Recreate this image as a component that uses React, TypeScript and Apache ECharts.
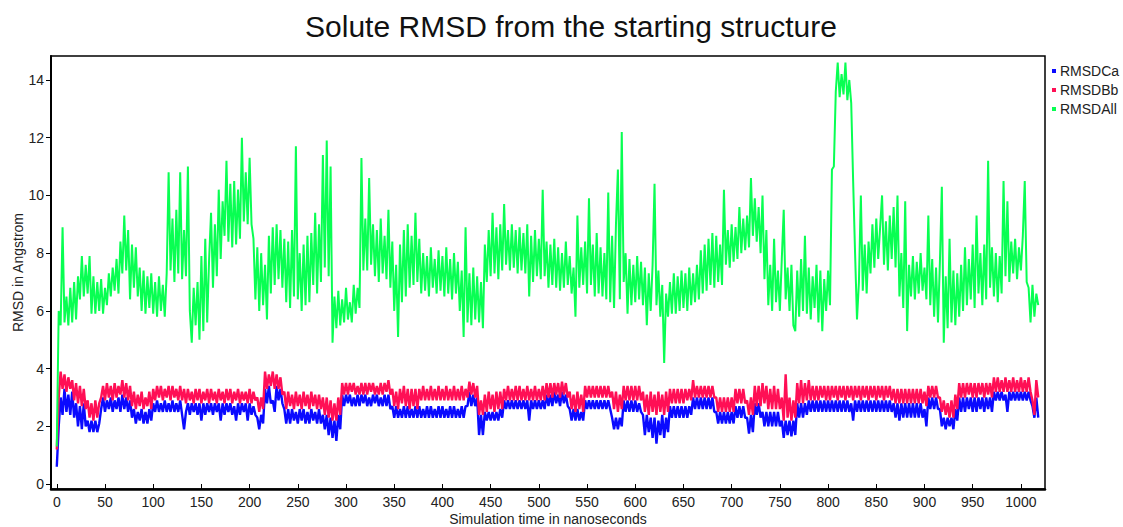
import React, { useEffect, useRef } from "react";
import * as echarts from "echarts";

// Trajectory frames are sampled every 2 ns.
const SAMPLE_STEP_NS = 2;

const seriesNames = ["RMSDCa", "RMSDBb", "RMSDAll"];
const seriesColors = ["#0a0aff", "#ff0f55", "#08ff52"];
const seriesLineWidths = [2.4, 2.4, 2.0];

// C-alpha RMSD (Angstrom), 20 samples (40 ns) per row
const rmsdCa = [
  0.6, 2.0, 3.0, 2.4, 3.3, 2.5, 3.1, 2.4, 3.2, 2.3, 2.8, 2.0, 2.7, 1.9, 2.8, 2.0, 2.2, 1.8, 2.2, 1.8,
  2.2, 1.8, 2.1, 2.6, 3.0, 2.5, 2.9, 2.6, 3.0, 2.5, 2.9, 2.6, 3.0, 2.5, 3.1, 2.6, 3.0, 2.5, 2.9, 2.3,
  2.6, 2.1, 2.5, 2.2, 2.6, 2.1, 2.5, 2.1, 2.6, 2.2, 2.8, 2.5, 2.9, 2.5, 2.8, 2.5, 2.9, 2.5, 2.8, 2.5,
  2.9, 2.5, 2.8, 2.5, 2.9, 2.4, 1.9, 2.5, 2.8, 2.4, 2.8, 2.5, 2.8, 2.4, 2.8, 2.2, 2.8, 2.4, 2.8, 2.5,
  2.8, 2.4, 2.8, 2.5, 2.8, 2.2, 2.8, 2.4, 2.8, 2.5, 2.8, 2.4, 2.7, 2.2, 2.8, 2.4, 2.8, 2.5, 2.8, 2.2,
  2.8, 2.4, 2.7, 2.4, 2.3, 1.9, 2.4, 2.1, 3.3, 2.8, 3.4, 2.8, 2.9, 2.5, 3.4, 2.9, 3.3, 2.8, 2.6, 2.1,
  2.6, 2.1, 2.6, 2.2, 2.5, 2.1, 2.6, 2.2, 2.6, 2.1, 2.5, 2.1, 2.6, 2.2, 2.5, 2.1, 2.6, 2.1, 2.4, 1.9,
  2.4, 1.7, 2.3, 1.6, 2.2, 1.5, 2.4, 1.9, 3.1, 2.7, 3.1, 2.8, 3.1, 2.7, 3.0, 2.7, 3.1, 2.7, 3.1, 2.8,
  3.1, 2.7, 3.0, 2.7, 3.1, 2.8, 3.1, 2.7, 3.0, 2.7, 3.1, 2.7, 3.1, 2.6, 2.7, 2.3, 2.7, 2.3, 2.6, 2.3,
  2.7, 2.3, 2.7, 2.3, 2.6, 2.3, 2.7, 2.3, 2.7, 2.3, 2.6, 2.3, 2.7, 2.3, 2.7, 2.3, 2.6, 2.3, 2.7, 2.3,
  2.7, 2.3, 2.6, 2.3, 2.7, 2.3, 2.7, 2.3, 2.6, 2.3, 2.7, 2.3, 2.7, 2.7, 3.2, 2.7, 3.1, 2.7, 3.0, 1.7,
  2.4, 1.7, 2.5, 2.2, 2.5, 2.2, 2.5, 2.2, 2.5, 2.2, 2.6, 2.3, 2.9, 2.6, 2.9, 2.6, 2.9, 2.6, 2.9, 2.6,
  2.9, 2.6, 2.9, 2.6, 2.9, 2.2, 2.9, 2.6, 2.9, 2.6, 2.9, 2.6, 2.9, 2.6, 3.1, 2.7, 3.1, 2.7, 3.2, 2.8,
  3.1, 2.7, 3.2, 2.8, 3.1, 2.7, 2.6, 2.2, 2.6, 2.2, 2.6, 2.2, 2.5, 2.2, 2.9, 2.6, 2.9, 2.6, 2.9, 2.6,
  2.9, 2.6, 2.9, 2.6, 2.9, 2.6, 2.9, 2.6, 2.3, 1.9, 2.3, 1.9, 2.3, 2.0, 2.9, 2.5, 2.9, 2.5, 2.9, 2.5,
  2.9, 2.5, 2.8, 2.5, 2.4, 1.7, 2.4, 1.8, 2.3, 1.6, 2.3, 1.4, 2.2, 1.7, 2.4, 1.6, 2.3, 1.8, 2.7, 2.3,
  2.7, 2.3, 2.7, 2.3, 2.7, 2.3, 2.7, 2.3, 2.7, 2.4, 3.0, 2.6, 3.0, 2.6, 3.0, 2.6, 3.0, 2.6, 3.0, 2.6,
  3.0, 2.5, 2.5, 2.1, 2.5, 2.1, 2.5, 2.1, 2.5, 2.1, 2.5, 2.1, 2.7, 2.3, 2.7, 2.3, 2.7, 2.3, 2.3, 1.75,
  2.4, 1.8, 2.8, 2.4, 2.8, 2.3, 2.5, 2.0, 2.5, 2.0, 2.5, 2.0, 2.5, 2.0, 2.5, 2.0, 2.2, 1.6, 2.2, 1.7,
  2.2, 1.65, 2.2, 1.7, 2.8, 2.3, 2.8, 2.3, 2.8, 2.4, 2.9, 2.5, 2.9, 2.5, 2.9, 2.5, 2.9, 2.5, 2.9, 2.5,
  2.9, 2.5, 2.9, 2.5, 2.9, 2.5, 2.9, 2.5, 2.9, 2.5, 2.9, 2.5, 2.8, 2.2, 2.9, 2.5, 2.9, 2.5, 2.9, 2.5,
  2.9, 2.5, 2.9, 2.5, 2.9, 2.5, 2.9, 2.5, 2.9, 2.5, 2.9, 2.5, 2.9, 2.5, 2.8, 2.3, 2.8, 2.2, 2.8, 2.3,
  2.8, 2.3, 2.8, 2.3, 2.8, 2.3, 2.8, 2.3, 2.8, 2.3, 2.6, 2.0, 3.0, 2.6, 3.0, 2.6, 3.0, 2.6, 2.6, 2.0,
  2.3, 1.9, 2.3, 2.0, 2.3, 1.9, 2.6, 2.2, 3.0, 2.5, 3.0, 2.5, 3.0, 2.6, 3.0, 2.5, 3.0, 2.5, 3.0, 2.6,
  3.0, 2.5, 3.0, 2.6, 3.0, 2.5, 3.2, 2.9, 3.2, 2.9, 3.2, 2.9, 3.1, 2.5, 3.2, 2.9, 3.2, 2.9, 3.2, 2.9,
  3.2, 2.9, 3.2, 2.9, 3.2, 2.9, 2.7, 2.3, 3.0, 2.3,
];

// Backbone RMSD (Angstrom)
const rmsdBb = [
  1.2, 3.0, 3.9, 3.3, 3.8, 3.2, 3.7, 3.3, 3.6, 2.9, 3.5, 2.8, 3.4, 2.7, 3.3, 2.6, 2.9, 2.3, 2.8, 2.2,
  2.9, 2.3, 2.8, 3.0, 3.4, 2.9, 3.5, 3.0, 3.4, 2.9, 3.5, 3.0, 3.4, 3.1, 3.6, 3.0, 3.5, 2.9, 3.4, 2.7,
  3.2, 2.6, 3.1, 2.7, 3.2, 2.6, 3.0, 2.7, 3.2, 2.6, 3.3, 2.9, 3.4, 3.0, 3.4, 2.9, 3.3, 3.0, 3.4, 2.9,
  3.4, 3.0, 3.3, 2.9, 3.4, 2.9, 3.3, 2.8, 3.3, 2.9, 3.2, 2.8, 3.3, 2.9, 3.3, 2.8, 3.2, 2.9, 3.3, 2.8,
  3.3, 2.9, 3.2, 2.8, 3.3, 2.9, 3.2, 2.8, 3.3, 2.9, 3.3, 2.8, 3.2, 2.9, 3.3, 2.8, 3.2, 2.9, 3.2, 2.8,
  3.3, 2.8, 3.2, 2.9, 3.0, 2.5, 3.0, 2.6, 3.9, 3.3, 3.8, 3.4, 3.9, 3.3, 3.8, 3.3, 3.7, 3.1, 3.2, 2.6,
  3.2, 2.7, 3.1, 2.6, 3.2, 2.7, 3.1, 2.6, 3.2, 2.7, 3.1, 2.6, 3.2, 2.7, 3.1, 2.6, 3.1, 2.6, 3.0, 2.4,
  3.0, 2.3, 2.9, 2.2, 2.8, 2.2, 3.0, 2.4, 3.5, 3.1, 3.5, 3.1, 3.5, 3.2, 3.5, 3.1, 3.4, 3.1, 3.5, 3.1,
  3.5, 3.1, 3.5, 3.2, 3.5, 3.1, 3.4, 3.1, 3.5, 3.1, 3.5, 3.2, 3.6, 3.1, 3.3, 2.7, 3.2, 2.6, 3.3, 2.8,
  3.4, 2.7, 3.3, 2.6, 3.3, 2.7, 3.3, 2.6, 3.3, 2.9, 3.4, 2.9, 3.3, 2.9, 3.4, 2.9, 3.3, 2.9, 3.4, 2.9,
  3.3, 2.9, 3.4, 2.9, 3.3, 2.9, 3.4, 2.9, 3.3, 2.9, 3.4, 2.9, 3.3, 3.0, 3.55, 3.1, 3.5, 3.0, 3.4, 2.4,
  2.9, 2.4, 3.1, 2.5, 3.2, 2.6, 3.1, 2.5, 3.2, 2.6, 3.2, 2.6, 3.3, 2.9, 3.4, 2.9, 3.3, 2.9, 3.4, 2.9,
  3.4, 2.9, 3.3, 2.9, 3.4, 2.9, 3.3, 2.9, 3.4, 2.9, 3.3, 2.9, 3.4, 2.9, 3.5, 3.0, 3.5, 3.0, 3.5, 3.1,
  3.5, 3.0, 3.55, 3.1, 3.5, 3.0, 3.2, 2.6, 3.1, 2.5, 3.2, 2.6, 3.1, 2.5, 3.4, 3.0, 3.4, 3.0, 3.4, 3.0,
  3.4, 3.0, 3.4, 3.0, 3.4, 3.0, 3.4, 3.0, 3.2, 2.6, 3.2, 2.5, 3.1, 2.6, 3.4, 2.9, 3.4, 2.9, 3.4, 2.9,
  3.4, 2.9, 3.4, 2.9, 3.2, 2.5, 3.1, 2.4, 3.2, 2.5, 3.1, 2.4, 3.2, 2.5, 3.1, 2.4, 3.2, 2.5, 3.3, 2.8,
  3.3, 2.8, 3.3, 2.8, 3.3, 2.8, 3.3, 2.9, 3.3, 2.9, 3.6, 3.0, 3.4, 3.0, 3.4, 3.0, 3.4, 3.0, 3.4, 3.0,
  3.4, 3.0, 3.0, 2.5, 3.0, 2.5, 3.0, 2.5, 3.0, 2.5, 3.0, 2.5, 3.3, 2.8, 3.3, 2.8, 3.3, 2.8, 2.9, 2.4,
  3.0, 2.4, 3.4, 2.7, 3.4, 2.7, 3.5, 2.8, 3.4, 2.6, 3.3, 2.6, 3.4, 2.6, 3.3, 2.6, 3.0, 2.2, 3.8, 2.3,
  3.0, 2.2, 2.9, 2.3, 3.5, 2.8, 3.6, 2.8, 3.5, 2.9, 3.6, 2.9, 3.4, 2.9, 3.4, 2.9, 3.4, 3.0, 3.4, 2.9,
  3.4, 2.9, 3.4, 3.0, 3.4, 2.9, 3.4, 3.0, 3.4, 2.9, 3.4, 3.0, 3.4, 2.9, 3.4, 3.0, 3.4, 2.9, 3.4, 3.0,
  3.4, 2.9, 3.4, 3.0, 3.4, 2.9, 3.4, 3.0, 3.4, 2.9, 3.4, 3.0, 3.4, 2.9, 3.3, 2.8, 3.3, 2.8, 3.3, 2.8,
  3.3, 2.8, 3.3, 2.8, 3.3, 2.8, 3.3, 2.8, 3.3, 2.8, 3.2, 2.7, 3.4, 3.0, 3.4, 3.0, 3.4, 3.0, 3.0, 2.5,
  2.9, 2.4, 2.8, 2.3, 2.9, 2.3, 3.1, 2.6, 3.5, 3.0, 3.5, 3.0, 3.5, 3.1, 3.5, 3.0, 3.5, 3.0, 3.5, 3.1,
  3.5, 3.0, 3.5, 3.1, 3.5, 3.0, 3.7, 3.2, 3.7, 3.2, 3.6, 3.2, 3.7, 3.2, 3.6, 3.2, 3.7, 3.2, 3.6, 3.2,
  3.7, 3.2, 3.6, 3.2, 3.7, 3.2, 2.9, 2.4, 3.6, 3.0,
];

// All-atom solute RMSD (Angstrom)
const rmsdAll = [
  1.3, 6.0, 5.5, 8.9, 5.6, 6.5, 5.5, 6.8, 5.6, 7.0, 5.7, 7.2, 6.4, 7.9, 6.5, 7.6, 6.6, 7.9, 5.9, 7.2,
  5.9, 7.0, 6.0, 7.1, 5.9, 6.8, 6.2, 7.3, 6.5, 7.5, 6.7, 7.8, 6.6, 8.4, 7.3, 9.3, 7.4, 8.8, 6.4, 8.3,
  6.8, 8.2, 6.5, 7.5, 6.0, 7.4, 5.9, 7.2, 6.1, 7.3, 5.9, 7.0, 5.8, 7.2, 6.0, 6.9, 5.8, 7.3, 10.8, 7.4,
  9.2, 7.0, 9.5, 7.3, 10.8, 7.1, 8.8, 7.2, 11.0, 6.0, 4.9, 6.8, 5.5, 7.0, 5.0, 7.9, 5.3, 8.5, 5.6, 7.8,
  9.4, 6.8, 9.0, 7.2, 10.2, 7.8, 9.8, 8.6, 11.2, 8.4, 10.4, 8.2, 10.5, 8.3, 10.2, 8.5, 12.0, 9.1, 10.8, 9.0,
  11.3, 9.0, 8.5, 6.4, 8.2, 6.0, 8.0, 6.2, 7.6, 5.7, 8.6, 6.6, 8.9, 6.9, 9.0, 7.1, 8.8, 6.8, 8.5, 6.3,
  8.4, 6.1, 8.8, 6.5, 11.7, 6.4, 8.0, 6.0, 8.3, 6.2, 8.6, 6.3, 8.7, 6.9, 9.4, 6.6, 9.0, 7.0, 11.4, 7.5,
  11.9, 7.2, 11.0, 4.9, 6.5, 5.4, 6.7, 5.5, 6.4, 5.6, 6.8, 5.7, 6.3, 5.6, 6.9, 5.9, 6.8, 6.1, 11.3, 7.4,
  9.2, 7.4, 10.6, 7.6, 9.0, 7.2, 8.8, 7.0, 9.2, 7.3, 8.6, 7.1, 9.5, 6.8, 8.4, 6.0, 7.6, 5.1, 8.3, 6.3,
  8.8, 6.5, 9.0, 6.8, 8.6, 6.9, 9.4, 7.0, 8.5, 6.6, 8.0, 6.7, 7.9, 6.5, 8.2, 6.8, 7.8, 6.6, 8.1, 6.7,
  7.9, 6.5, 8.2, 6.6, 7.8, 6.4, 8.0, 6.6, 7.7, 6.0, 7.4, 5.1, 8.9, 5.6, 7.3, 5.5, 7.5, 5.7, 7.2, 5.6,
  7.0, 5.4, 8.3, 7.0, 8.8, 7.2, 9.4, 7.3, 8.9, 7.1, 9.0, 7.4, 9.7, 7.6, 8.8, 7.4, 9.0, 7.5, 8.8, 7.3,
  8.9, 7.4, 8.7, 7.3, 9.0, 6.5, 8.6, 7.0, 8.8, 7.2, 8.5, 7.1, 10.2, 7.2, 8.4, 6.8, 8.3, 6.9, 8.5, 6.8,
  8.2, 6.7, 8.0, 6.8, 8.4, 6.9, 7.9, 6.6, 7.5, 5.8, 9.3, 6.8, 8.2, 6.9, 8.4, 6.6, 9.9, 6.9, 8.3, 6.5,
  8.7, 6.6, 8.2, 6.5, 8.0, 6.4, 10.1, 6.3, 8.6, 6.1, 9.0, 10.9, 6.4, 12.2, 7.0, 8.0, 5.9, 7.8, 6.2, 7.6,
  6.3, 7.9, 6.4, 7.7, 6.2, 7.5, 5.5, 7.3, 6.0, 7.6, 10.4, 6.2, 7.4, 5.8, 6.9, 4.2, 6.6, 5.8, 7.0, 5.9,
  7.3, 5.9, 7.2, 6.0, 7.4, 6.1, 7.3, 6.0, 7.5, 6.2, 7.3, 6.3, 7.6, 6.4, 8.1, 6.6, 8.3, 6.7, 8.5, 6.9,
  8.7, 6.8, 8.6, 7.0, 8.3, 6.9, 10.2, 7.6, 8.8, 7.5, 9.0, 7.7, 8.9, 7.8, 9.6, 8.0, 9.2, 8.1, 9.3, 8.2,
  10.6, 8.6, 9.9, 8.4, 9.6, 8.0, 10.0, 7.1, 8.8, 6.2, 7.6, 6.0, 8.5, 6.3, 7.4, 6.0, 7.8, 9.5, 6.4, 7.5,
  6.0, 7.6, 5.5, 5.3, 7.4, 5.8, 7.8, 6.0, 8.6, 5.9, 7.5, 5.7, 7.2, 6.1, 7.6, 5.6, 7.4, 5.3, 7.1, 6.0,
  7.4, 6.2, 10.9, 11.0, 13.6, 14.6, 13.4, 14.2, 13.5, 14.6, 13.3, 14.0, 13.2, 10.5, 8.0, 5.7, 7.0, 10.0, 6.7, 8.3,
  6.6, 8.4, 7.3, 9.0, 7.5, 9.2, 7.8, 8.9, 10.0, 7.6, 9.1, 7.4, 9.3, 7.8, 9.6, 7.5, 10.0, 6.5, 8.0, 6.1,
  9.8, 5.3, 7.6, 6.5, 7.9, 6.4, 7.7, 6.6, 8.0, 6.7, 7.5, 6.4, 9.3, 6.2, 7.8, 5.8, 7.5, 5.6, 7.7, 10.3,
  4.9, 7.2, 5.4, 8.5, 5.6, 7.4, 5.5, 7.3, 5.8, 7.6, 6.0, 8.2, 6.2, 7.8, 6.4, 8.3, 6.1, 9.3, 6.6, 8.0,
  6.2, 8.3, 6.4, 11.2, 6.8, 8.2, 6.5, 8.0, 6.3, 7.9, 6.6, 10.5, 7.2, 9.8, 7.0, 8.4, 7.3, 8.5, 7.1, 8.2,
  7.4, 8.6, 10.5, 7.0, 6.8, 5.6, 6.9, 5.8, 6.6, 6.2,
];

const xTickValues = [0, 50, 100, 150, 200, 250, 300, 350, 400, 450, 500, 550, 600, 650, 700, 750, 800, 850, 900, 950, 1000];
const yTickValues = [0, 2, 4, 6, 8, 10, 12, 14];

const FONT = "'Liberation Sans', Arial, Helvetica, sans-serif";
const TEXT_COLOR = "#222";

function toPairs(values: number[]) {
  return values.map((v, i) => [i * SAMPLE_STEP_NS, v]);
}

export default function App() {
  const ref = useRef<HTMLDivElement>(null);

  useEffect(() => {
    if (!ref.current) return;
    const chart = echarts.init(ref.current, null, { renderer: "svg" });
    const allSeries = [rmsdCa, rmsdBb, rmsdAll];

    chart.setOption({
      animation: false,
      backgroundColor: "#ffffff",
      textStyle: { fontFamily: FONT },
      title: {
        text: "Solute RMSD from the starting structure",
        left: 566,
        top: 6,
        textAlign: "center",
        textStyle: { fontFamily: FONT, fontSize: 30, fontWeight: "normal", color: "#111" },
      },
      legend: {
        data: seriesNames,
        orient: "vertical",
        left: 1052,
        top: 64,
        padding: 0,
        itemGap: 5,
        itemWidth: 4,
        itemHeight: 4,
        icon: "rect",
        selectedMode: false,
        textStyle: { fontFamily: FONT, fontSize: 14, color: TEXT_COLOR, padding: [0, 0, 0, -1] },
      },
      grid: {
        left: 51,
        right: 78,
        top: 56,
        bottom: 38,
        containLabel: false,
        outerBoundsMode: "none",
        show: true,
        borderColor: "#000",
        borderWidth: 1.5,
      },
      xAxis: {
        type: "value",
        min: -6,
        max: 1025,
        name: "Simulation time in nanoseconds",
        nameLocation: "middle",
        nameGap: 23,
        nameMoveOverlap: false,
        nameTextStyle: { fontFamily: FONT, fontSize: 14, color: TEXT_COLOR },
        axisLine: { show: true, onZero: false, lineStyle: { color: "#000", width: 2.5 } },
        axisTick: { show: true, inside: true, length: 5, customValues: xTickValues, lineStyle: { color: "#000", width: 1 } },
        axisLabel: {
          customValues: xTickValues,
          formatter: (v: number) => String(v),
          margin: 6,
          fontFamily: FONT,
          fontSize: 14,
          color: TEXT_COLOR,
        },
        splitLine: { show: false },
      },
      yAxis: {
        type: "value",
        min: -0.17,
        max: 14.83,
        name: "RMSD in Angstrom",
        nameLocation: "middle",
        nameGap: 26,
        nameMoveOverlap: false,
        nameTextStyle: { fontFamily: FONT, fontSize: 14, color: TEXT_COLOR },
        axisLine: { show: true, onZero: false, lineStyle: { color: "#000", width: 2 } },
        axisTick: { show: true, inside: false, length: 5, customValues: yTickValues, lineStyle: { color: "#000", width: 1 } },
        axisLabel: { customValues: yTickValues, margin: 7, fontFamily: FONT, fontSize: 14, color: TEXT_COLOR },
        splitLine: { show: false },
      },
      series: allSeries.map((values, k) => ({
        name: seriesNames[k],
        type: "line",
        data: toPairs(values),
        showSymbol: false,
        symbol: "rect",
        color: seriesColors[k],
        lineStyle: { color: seriesColors[k], width: seriesLineWidths[k] },
        emphasis: { disabled: true },
        silent: true,
      })),
    });

    return () => chart.dispose();
  }, []);

  return (
    <div
      ref={ref}
      style={{ position: "fixed", left: 0, top: 0, width: 1123, height: 527 }}
    />
  );
}
